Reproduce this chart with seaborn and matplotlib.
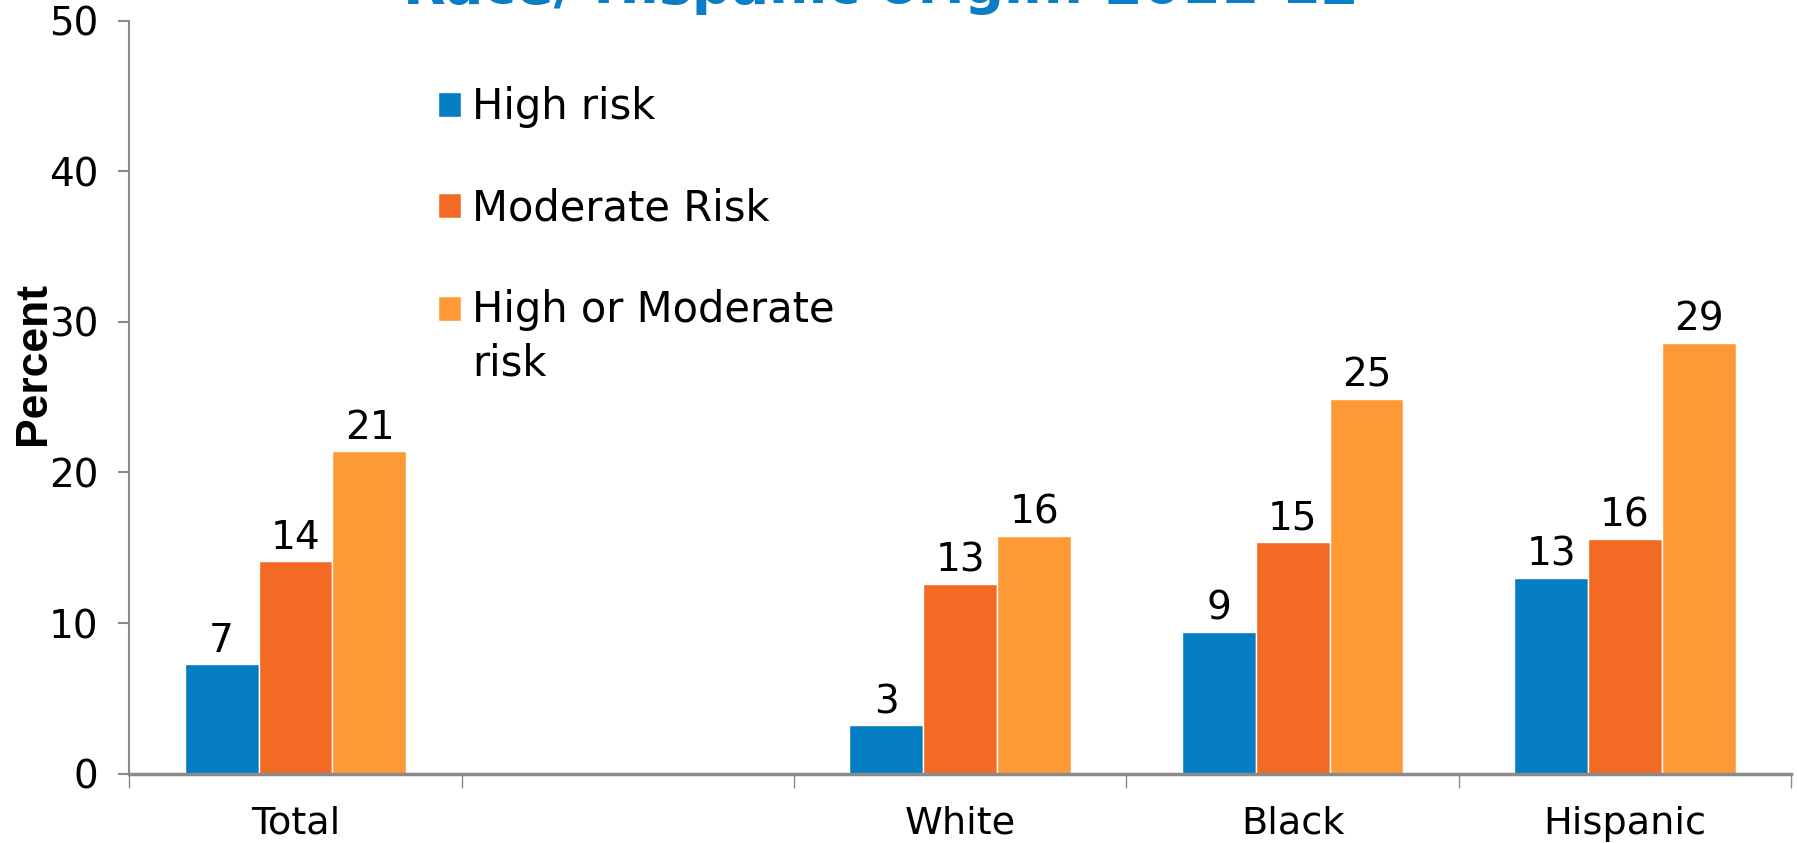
import matplotlib
matplotlib.use("Agg")
import matplotlib.pyplot as plt
from matplotlib.patches import Rectangle
from matplotlib.legend_handler import HandlerPatch
from matplotlib.ticker import FixedLocator
import numpy as np
import pandas as pd
import seaborn as sns

# ---- data ----
groups = ["Total", " ", "White", "Black", "Hispanic"]
risk_levels = ["High risk", "Moderate Risk", "High or Moderate risk"]
legend_labels = ["High risk", "Moderate Risk", "High or Moderate\nrisk"]
high_risk = [7.3, np.nan, 3.2, 9.4, 13.0]
moderate_risk = [14.1, np.nan, 12.6, 15.4, 15.6]
high_or_moderate = [21.4, np.nan, 15.8, 24.9, 28.6]
colors = ["#047DC3", "#F26A24", "#FD9A36"]
title_text = "Race/ Hispanic origin: 2011-12"

df = pd.DataFrame({
    "group": groups * 3,
    "risk": np.repeat(risk_levels, len(groups)),
    "value": high_risk + moderate_risk + high_or_moderate,
}).dropna()

sns.set_style("white")
plt.rcParams["font.family"] = ["DejaVu Sans"]
plt.rcParams["text.color"] = "black"
plt.rcParams["axes.labelcolor"] = "black"
plt.rcParams["xtick.labelcolor"] = "black"
plt.rcParams["ytick.labelcolor"] = "black"

fig = plt.figure(figsize=(17.97, 8.43), dpi=100)
ax = fig.add_axes([0.072, 0.0823, 0.9247, 0.8933])

sns.barplot(data=df, x="group", y="value", hue="risk", order=groups,
            hue_order=risk_levels, palette=colors, width=0.667, gap=0,
            saturation=1, errorbar=None, ax=ax, legend=True)

# value labels above each bar
for cont in ax.containers:
    ax.bar_label(cont, fmt="%.0f", padding=3, fontsize=28, color="black")

# axes styling
ax.set_ylim(0, 50)
ax.set_xlim(-0.5, len(groups) - 0.5)
ax.set_yticks(range(0, 51, 10))
ax.set_xlabel("")
ax.set_ylabel("Percent", fontsize=32, fontweight="bold",
              family="Liberation Sans", labelpad=0)
ax.yaxis.set_label_coords(-0.0455, 0.544)
for side in ["top", "right"]:
    ax.spines[side].set_visible(False)
ax.spines["left"].set_color("#8a8a8a")
ax.spines["left"].set_linewidth(1.5)
ax.spines["bottom"].set_color("#8a8a8a")
ax.spines["bottom"].set_linewidth(2.5)

ax.tick_params(axis="y", which="major", direction="out", length=8, width=1.5,
               color="#8a8a8a", labelsize=28, pad=14.5, left=True)
# category names centred in each slot, tick marks on the slot boundaries
ax.tick_params(axis="x", which="major", length=0, labelsize=27.5, pad=23)
ax.xaxis.set_minor_locator(FixedLocator(np.arange(-0.5, len(groups), 1.0)))
ax.tick_params(axis="x", which="minor", direction="out", length=10, width=1,
               color="#8a8a8a", bottom=True)


# legend: swatch aligned with the first line of a wrapped label
def make_patch(legend, orig_handle, xdescent, ydescent, width, height, fontsize):
    label = legend_labels[handles.index(orig_handle)]
    n_extra = label.count("\n")
    shift = n_extra * fontsize * 0.73
    return Rectangle((-xdescent, -ydescent + shift), width, height)


handles, _ = ax.get_legend_handles_labels()
ax.legend_.remove()
leg_fs = 30
leg = ax.legend(handles, legend_labels, loc="upper left",
                bbox_to_anchor=(0.186, 0.913), frameon=False, fontsize=leg_fs,
                handlelength=0.55, handleheight=0.55, handletextpad=0.25,
                labelspacing=1.43, borderpad=0, borderaxespad=0,
                handler_map={h: HandlerPatch(patch_func=make_patch) for h in handles})
for t in leg.get_texts():
    t.set_linespacing(1.35)
    t.set_color("black")

# title sits mostly above the top edge of the figure
fig.text(0.49, 1 - 3 / 843, title_text, ha="center", va="baseline",
         fontsize=40, fontweight="bold", color="#0A7EC4")

fig.savefig("out.png", dpi=100)
